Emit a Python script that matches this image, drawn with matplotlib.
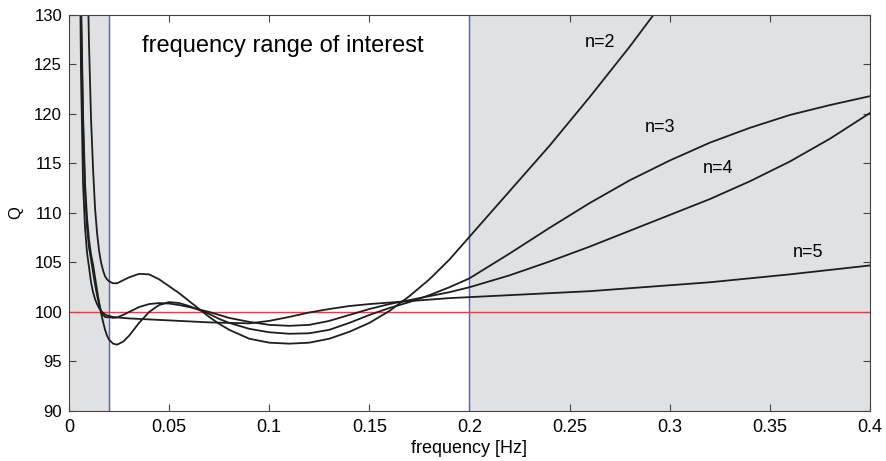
import matplotlib.pyplot as plt

plt.rcParams['font.family'] = ['Liberation Sans', 'DejaVu Sans']

# Frequencias (Hz)
freq = [0.005, 0.006, 0.007, 0.008, 0.009, 0.010, 0.011, 0.012, 0.013, 0.014, 0.015, 0.016,
        0.017, 0.018, 0.019, 0.020,
        0.022, 0.024, 0.027, 0.030, 0.035, 0.040, 0.045, 0.050, 0.055, 0.060, 0.065, 0.070,
        0.075, 0.080,
        0.09, 0.10, 0.11, 0.12, 0.13, 0.14, 0.15, 0.16, 0.17, 0.18, 0.19, 0.20,
        0.22, 0.24, 0.26, 0.28, 0.30, 0.32, 0.34, 0.36, 0.38, 0.40]

# Valores de Q para cada n
q_n2 = [175, 165, 155, 146, 137, 127, 119.5, 114.5, 110.5, 108.0, 106.2, 105.0, 104.2, 103.6, 103.3, 103.1,
        102.9, 102.9, 103.2, 103.5, 103.85, 103.8, 103.3, 102.6, 101.9, 101.1, 100.3, 99.5, 98.8, 98.2,
        97.3, 96.9, 96.8, 96.9, 97.3, 98.0, 98.9, 100.1, 101.6, 103.3, 105.3, 107.6,
        112.2, 116.8, 121.7, 126.8, 132.2, 138, 144, 150, 156, 162]
q_n3 = [155, 132, 120, 113, 109.5, 107.3, 105.8, 104.8, 103.5, 102.2, 101.0, 99.9, 99.0, 98.2, 97.6, 97.2,
        96.8, 96.7, 97.0, 97.6, 98.9, 100.0, 100.7, 101.0, 100.9, 100.6, 100.2, 99.8, 99.3, 98.9,
        98.3, 97.95, 97.8, 97.85, 98.2, 98.9, 99.7, 100.4, 101.0, 101.7, 102.5, 103.4,
        105.9, 108.5, 111.0, 113.3, 115.3, 117.1, 118.6, 119.9, 120.9, 121.8]
q_n4 = [150, 130, 119, 112, 108.5, 106.5, 105.3, 104.0, 102.8, 101.7, 100.8, 100.1, 99.7, 99.5, 99.45, 99.5,
        99.4, 99.45, 99.7, 100.0, 100.5, 100.8, 100.9, 100.85, 100.7, 100.5, 100.25, 100.0, 99.7, 99.4,
        99.0, 98.7, 98.6, 98.7, 99.1, 99.7, 100.3, 100.8, 101.2, 101.6, 102.0, 102.5,
        103.7, 105.1, 106.6, 108.2, 109.8, 111.4, 113.2, 115.2, 117.5, 120.1]
q_n5 = [145, 124, 113, 108.5, 106, 104.5, 103.0, 102.0, 101.3, 100.8, 100.4, 100.1, 99.9, 99.75, 99.65, 99.6,
        99.5, 99.45, 99.4, 99.35, 99.3, 99.25, 99.2, 99.15, 99.1, 99.05, 99.0, 98.95, 98.92, 98.9,
        98.85, 99.1, 99.5, 99.95, 100.3, 100.6, 100.8, 100.95, 101.1, 101.25, 101.4, 101.5,
        101.7, 101.9, 102.1, 102.4, 102.7, 103.0, 103.4, 103.8, 104.25, 104.7]

curvas = [q_n2, q_n3, q_n4, q_n5]
rotulos = ['n=2', 'n=3', 'n=4', 'n=5']
pos_rotulos = [(0.265, 127.2), (0.295, 118.6), (0.324, 114.5), (0.369, 106.0)]

faixa = (0.02, 0.2)
q_ref = 100

xticks = [0, 0.05, 0.1, 0.15, 0.2, 0.25, 0.3, 0.35, 0.4]
xtick_labels = ['0', '0.05', '0.1', '0.15', '0.2', '0.25', '0.3', '0.35', '0.4']
yticks = [90, 95, 100, 105, 110, 115, 120, 125, 130]

fig = plt.figure(figsize=(8.87, 4.61), dpi=100)
ax = fig.add_axes([0.0778, 0.1085, 0.9030, 0.859])

# Regioes fora da faixa de interesse
ax.axvspan(0, faixa[0], color='#dfe1e3', lw=0)
ax.axvspan(faixa[1], 0.4, color='#dfe1e3', lw=0)
ax.axvline(faixa[0], color='#4f60d6', lw=1)
ax.axvline(faixa[1], color='#4f60d6', lw=1)
ax.axhline(q_ref, color='#e5403f', lw=1)

for q in curvas:
    ax.plot(freq, q, color='#1e1e1e', lw=1.3)

for txt, (x, y) in zip(rotulos, pos_rotulos):
    ax.text(x, y, txt, fontsize=13, ha='center', va='center')

ax.text(0.107, 126.9, 'frequency range of interest', fontsize=17, ha='center', va='center')

ax.set_xlim(0, 0.4)
ax.set_ylim(90, 130)
ax.set_xticks(xticks)
ax.set_xticklabels(xtick_labels)
ax.set_yticks(yticks)
ax.tick_params(direction='in', top=True, right=True, length=5, color='#444')
ax.tick_params(axis='x', labelsize=13, pad=6)
ax.tick_params(axis='y', labelsize=12, pad=5)
for s in ax.spines.values():
    s.set_color('#444')

ax.set_xlabel('frequency [Hz]', fontsize=13, labelpad=3)
ax.set_ylabel('Q', fontsize=12, labelpad=8)

plt.savefig('out.png')
